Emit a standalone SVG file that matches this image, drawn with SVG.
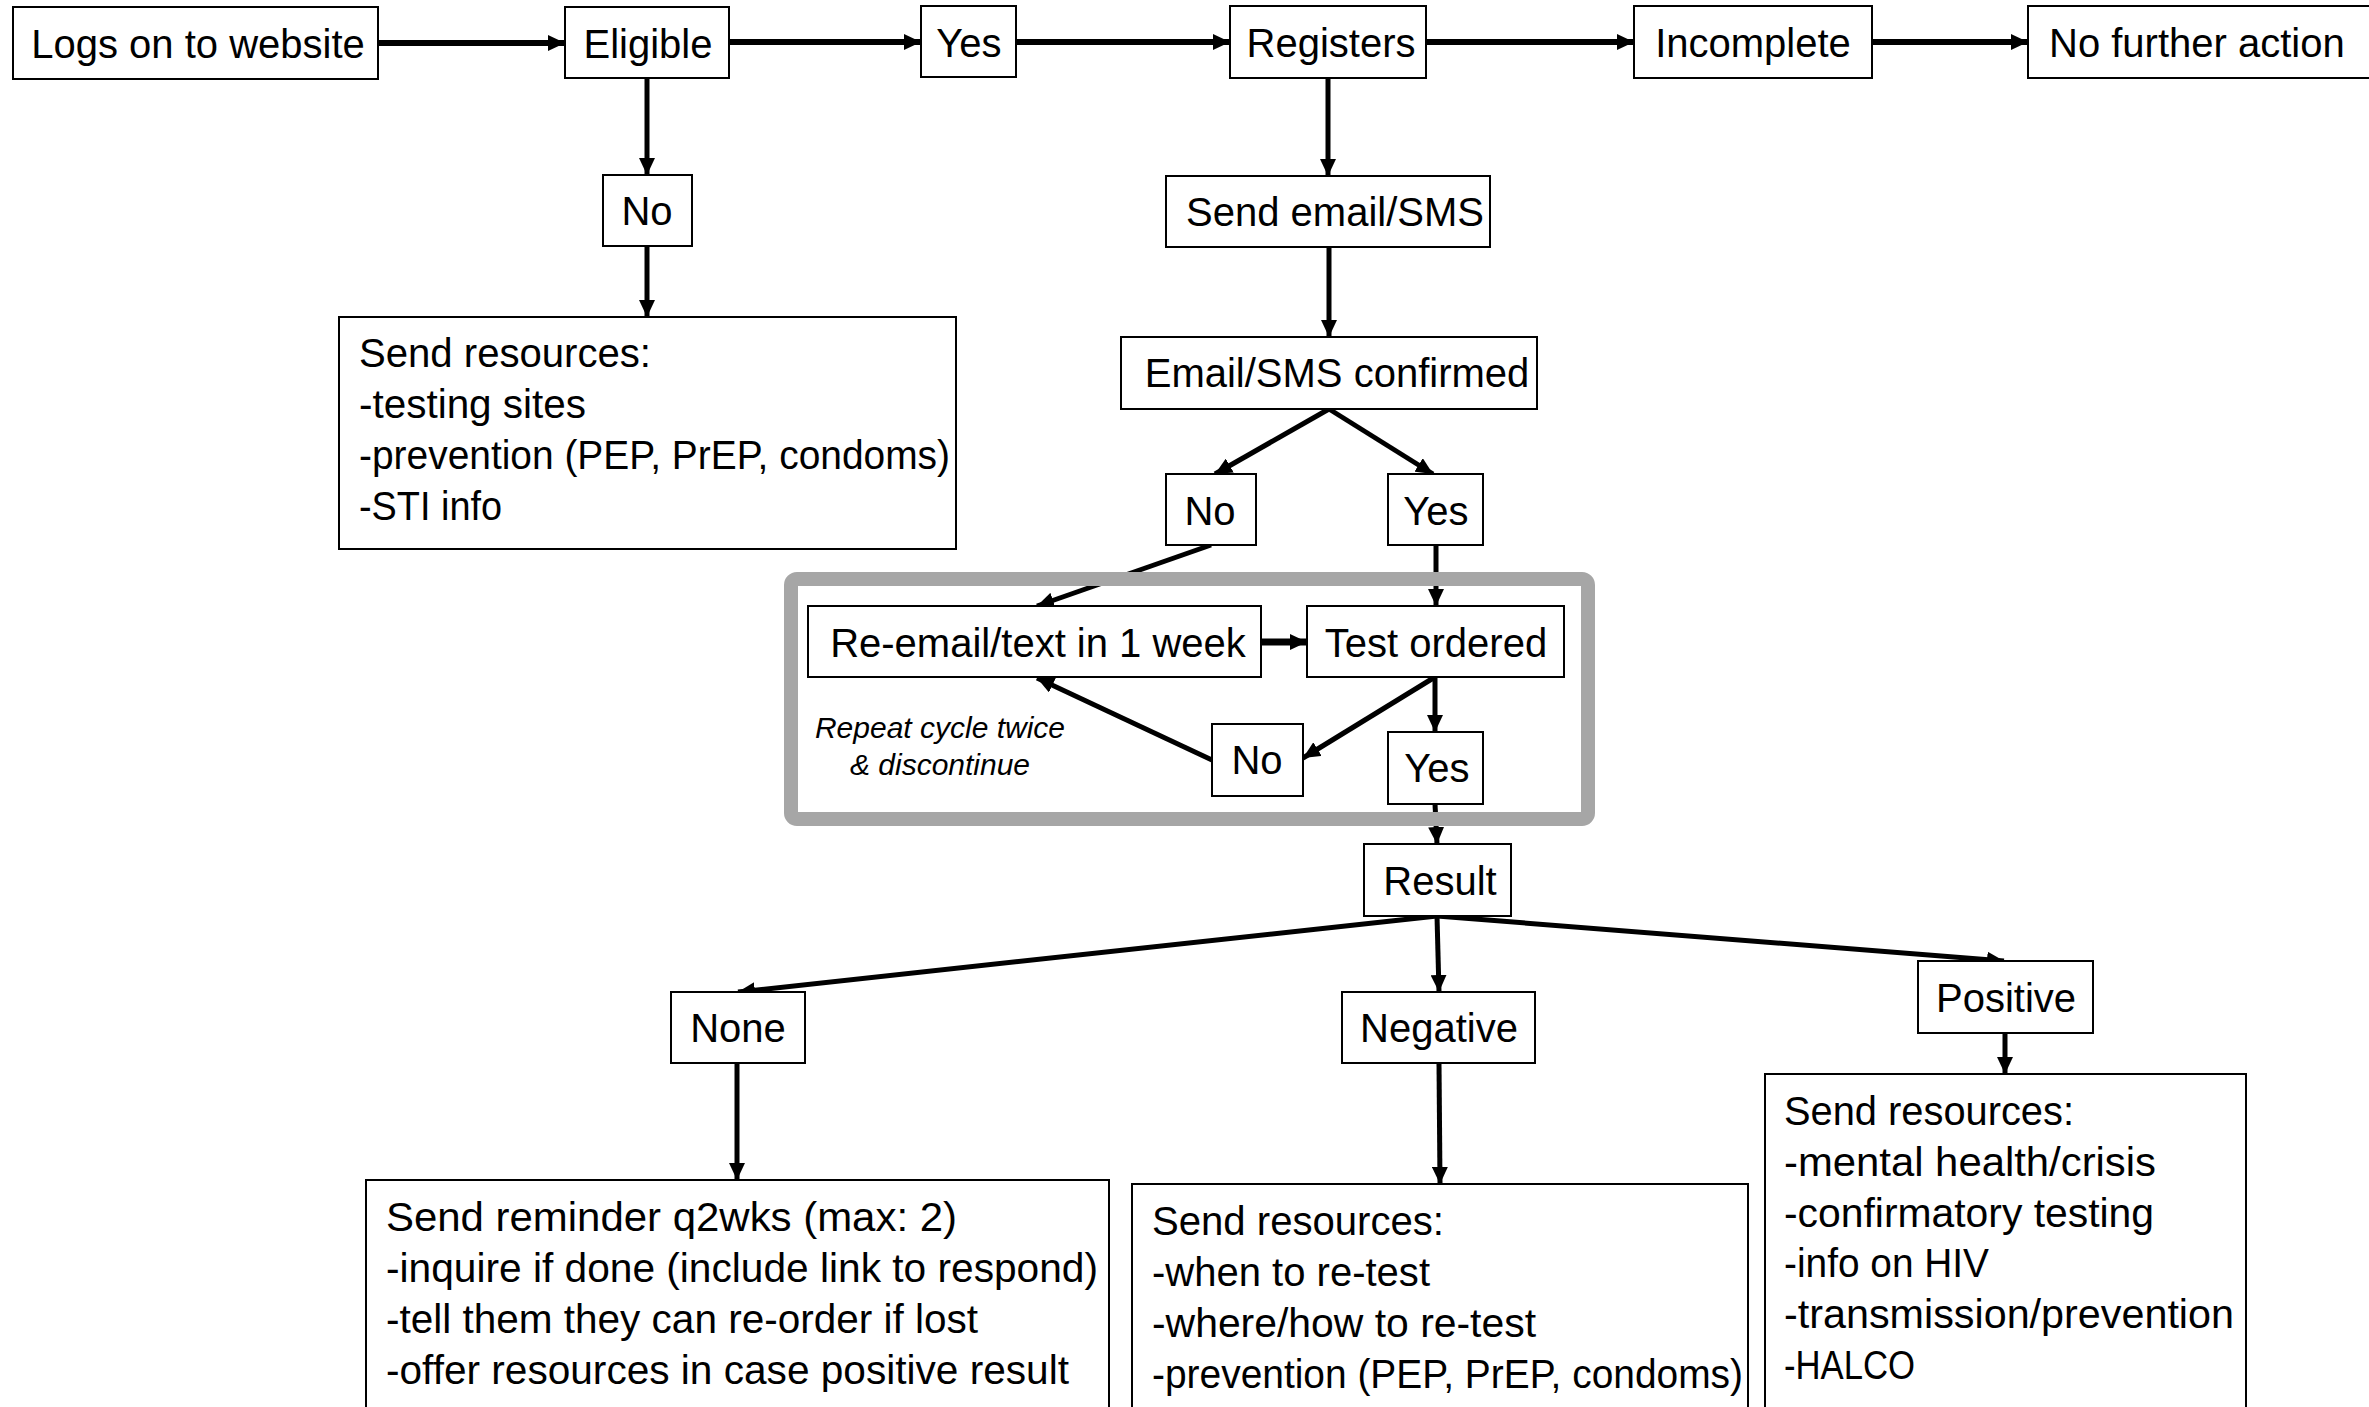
<svg xmlns="http://www.w3.org/2000/svg" width="2369" height="1407" viewBox="0 0 2369 1407">
<style>
.box{fill:#fff;stroke:#000;stroke-width:2}
.t{font-family:"Liberation Sans",Arial,sans-serif;font-size:40px;fill:#000}
.c{text-anchor:middle}
.note{font-family:"Liberation Sans",Arial,sans-serif;font-size:30px;font-style:italic;fill:#000;text-anchor:middle}
.ln{stroke:#000;stroke-width:5;fill:none}
.top{stroke-width:6}
.frame{fill:none;stroke:#a6a6a6;stroke-width:14}
</style>
<defs>
<marker id="ah" markerUnits="userSpaceOnUse" markerWidth="18" markerHeight="16" refX="17" refY="8" orient="auto" viewBox="0 0 18 16">
<path d="M0,0 L17,8 L0,16 z" fill="#000"/>
</marker>
</defs>
<rect width="2369" height="1407" fill="#fff"/>
<g id="connectors" marker-end="url(#ah)">
<line class="ln top" x1="378" y1="43" x2="565" y2="43"/>
<line class="ln top" x1="729" y1="42" x2="921" y2="42"/>
<line class="ln top" x1="1016" y1="42" x2="1230" y2="42"/>
<line class="ln top" x1="1426" y1="42" x2="1634" y2="42"/>
<line class="ln top" x1="1872" y1="42" x2="2028" y2="42"/>
<line class="ln" x1="647" y1="78" x2="647" y2="175"/>
<line class="ln" x1="647" y1="246" x2="647" y2="317"/>
<line class="ln" x1="1328" y1="78" x2="1328" y2="176"/>
<line class="ln" x1="1329" y1="247" x2="1329" y2="337"/>
<line class="ln" x1="1329" y1="409" x2="1215" y2="474"/>
<line class="ln" x1="1329" y1="409" x2="1433" y2="474"/>
<line class="ln" x1="1211" y1="545" x2="1037" y2="606"/>
<line class="ln" x1="1436" y1="545" x2="1436" y2="606"/>
<line class="ln" x1="1261" y1="642" x2="1307" y2="642" style="stroke-width:7"/>
<line class="ln" x1="1435" y1="677" x2="1303" y2="758"/>
<line class="ln" x1="1435" y1="677" x2="1435" y2="732"/>
<line class="ln" x1="1212" y1="760" x2="1037" y2="678"/>
<line class="ln" x1="1435" y1="804" x2="1437" y2="844"/>
<line class="ln" x1="1437" y1="916" x2="738" y2="992"/>
<line class="ln" x1="1437" y1="916" x2="1439" y2="992"/>
<line class="ln" x1="1437" y1="916" x2="2004" y2="961"/>
<line class="ln" x1="737" y1="1063" x2="737" y2="1180"/>
<line class="ln" x1="1439" y1="1063" x2="1440" y2="1184"/>
<line class="ln" x1="2005" y1="1033" x2="2005" y2="1074"/>
</g>
<g id="cycle-frame">
<rect class="frame" x="791" y="579" width="797" height="240" rx="6"/>
<text class="note" x="940" y="738">Repeat cycle twice</text>
<text class="note" x="940" y="775">&amp; discontinue</text>
</g>
<g id="logs"><rect class="box" x="13" y="7" width="365" height="72"/><text class="t c" x="198" y="58">Logs on to website</text></g>
<g id="eligible"><rect class="box" x="565" y="7" width="164" height="71"/><text class="t c" x="648" y="58">Eligible</text></g>
<g id="yes1"><rect class="box" x="921" y="6" width="95" height="71"/><text class="t c" x="969" y="57">Yes</text></g>
<g id="registers"><rect class="box" x="1230" y="6" width="196" height="72"/><text class="t c" x="1331" y="57">Registers</text></g>
<g id="incomplete"><rect class="box" x="1634" y="6" width="238" height="72"/><text class="t c" x="1753" y="57">Incomplete</text></g>
<g id="nofurther"><rect class="box" x="2028" y="6" width="360" height="72"/><text class="t" x="2049" y="57">No further action</text></g>
<g id="no1"><rect class="box" x="603" y="175" width="89" height="71"/><text class="t c" x="647" y="225">No</text></g>
<g id="sendres1"><rect class="box" x="339" y="317" width="617" height="232"/>
<text class="t" x="359" y="367" textLength="292" lengthAdjust="spacingAndGlyphs">Send resources:</text>
<text class="t" x="359" y="418" textLength="227" lengthAdjust="spacingAndGlyphs">-testing sites</text>
<text class="t" x="359" y="469" textLength="591" lengthAdjust="spacingAndGlyphs">-prevention (PEP, PrEP, condoms)</text>
<text class="t" x="359" y="520" textLength="143" lengthAdjust="spacingAndGlyphs">-STI info</text></g>
<g id="sendemail"><rect class="box" x="1166" y="176" width="324" height="71"/><text class="t c" x="1335" y="226">Send email/SMS</text></g>
<g id="emailconf"><rect class="box" x="1121" y="337" width="416" height="72"/><text class="t c" x="1337" y="387">Email/SMS confirmed</text></g>
<g id="no2"><rect class="box" x="1166" y="474" width="90" height="71"/><text class="t c" x="1210" y="525">No</text></g>
<g id="yes2"><rect class="box" x="1388" y="474" width="95" height="71"/><text class="t c" x="1436" y="525">Yes</text></g>
<g id="reemail"><rect class="box" x="808" y="606" width="453" height="71"/><text class="t c" x="1038" y="657">Re-email/text in 1 week</text></g>
<g id="testordered"><rect class="box" x="1307" y="606" width="257" height="71"/><text class="t c" x="1436" y="657">Test ordered</text></g>
<g id="no3"><rect class="box" x="1212" y="724" width="91" height="72"/><text class="t c" x="1257" y="774">No</text></g>
<g id="yes3"><rect class="box" x="1388" y="732" width="95" height="72"/><text class="t c" x="1437" y="782">Yes</text></g>
<g id="result"><rect class="box" x="1364" y="844" width="147" height="72"/><text class="t c" x="1440" y="895">Result</text></g>
<g id="none"><rect class="box" x="671" y="992" width="134" height="71"/><text class="t c" x="738" y="1042">None</text></g>
<g id="negative"><rect class="box" x="1342" y="992" width="193" height="71"/><text class="t c" x="1439" y="1042">Negative</text></g>
<g id="positive"><rect class="box" x="1918" y="961" width="175" height="72"/><text class="t c" x="2006" y="1012">Positive</text></g>
<g id="nonebox"><rect class="box" x="366" y="1180" width="743" height="260"/>
<text class="t" x="386" y="1231" textLength="571" lengthAdjust="spacingAndGlyphs">Send reminder q2wks (max: 2)</text>
<text class="t" x="386" y="1282" textLength="712" lengthAdjust="spacingAndGlyphs">-inquire if done (include link to respond)</text>
<text class="t" x="386" y="1333" textLength="592" lengthAdjust="spacingAndGlyphs">-tell them they can re-order if lost</text>
<text class="t" x="386" y="1384" textLength="683" lengthAdjust="spacingAndGlyphs">-offer resources in case positive result</text></g>
<g id="negbox"><rect class="box" x="1132" y="1184" width="616" height="260"/>
<text class="t" x="1152" y="1235" textLength="292" lengthAdjust="spacingAndGlyphs">Send resources:</text>
<text class="t" x="1152" y="1286" textLength="278" lengthAdjust="spacingAndGlyphs">-when to re-test</text>
<text class="t" x="1152" y="1337" textLength="384" lengthAdjust="spacingAndGlyphs">-where/how to re-test</text>
<text class="t" x="1152" y="1388" textLength="591" lengthAdjust="spacingAndGlyphs">-prevention (PEP, PrEP, condoms)</text></g>
<g id="posbox"><rect class="box" x="1765" y="1074" width="481" height="360"/>
<text class="t" x="1784" y="1125" textLength="290" lengthAdjust="spacingAndGlyphs">Send resources:</text>
<text class="t" x="1784" y="1176" textLength="372" lengthAdjust="spacingAndGlyphs">-mental health/crisis</text>
<text class="t" x="1784" y="1227" textLength="370" lengthAdjust="spacingAndGlyphs">-confirmatory testing</text>
<text class="t" x="1784" y="1277" textLength="205" lengthAdjust="spacingAndGlyphs">-info on HIV</text>
<text class="t" x="1784" y="1328" textLength="450" lengthAdjust="spacingAndGlyphs">-transmission/prevention</text>
<text class="t" x="1784" y="1379" textLength="131" lengthAdjust="spacingAndGlyphs">-HALCO</text></g>
</svg>
